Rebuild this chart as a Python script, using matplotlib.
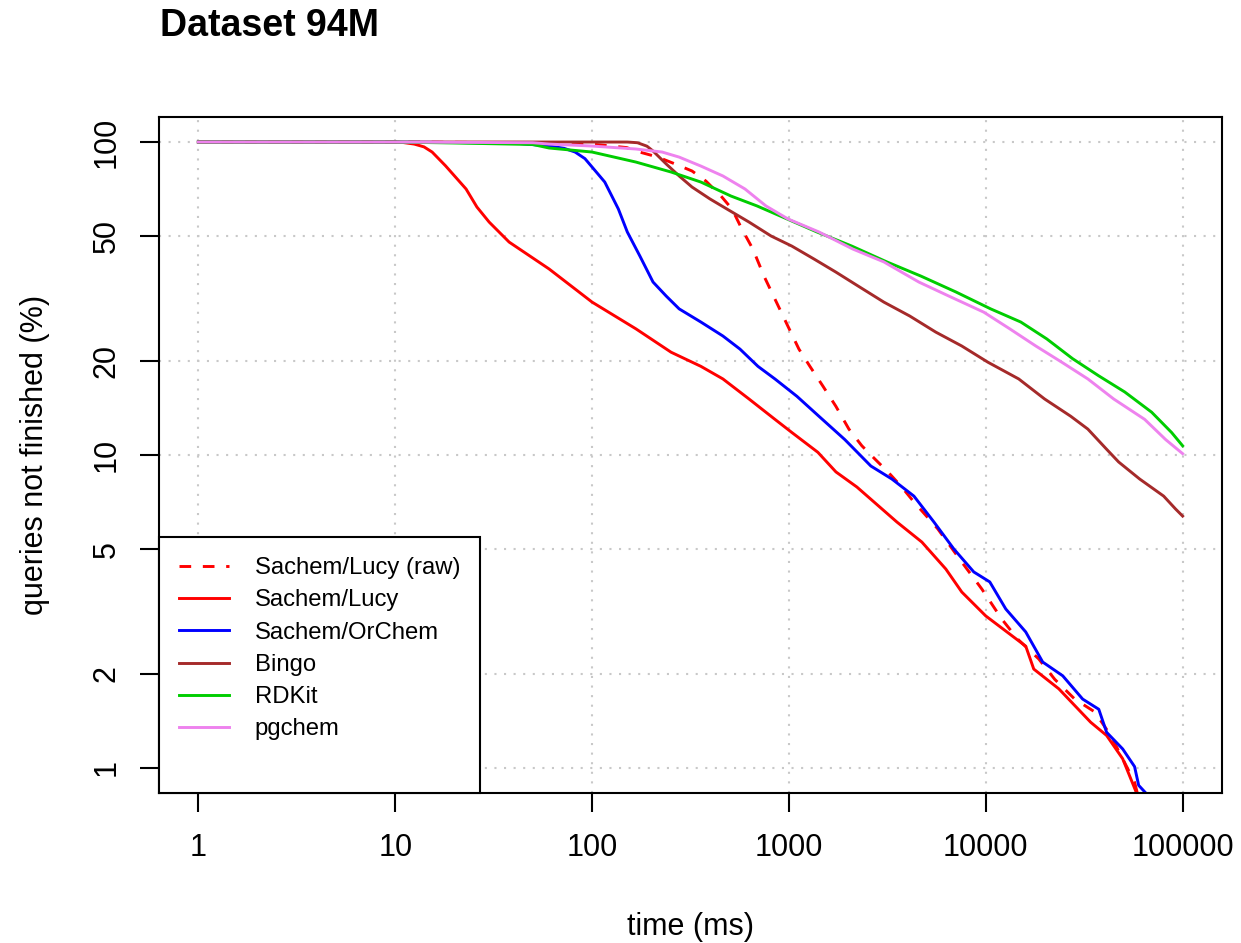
import matplotlib
matplotlib.use('Agg')
import matplotlib.pyplot as plt
from matplotlib.lines import Line2D

plt.rcParams['font.family'] = ['Liberation Sans', 'DejaVu Sans']

# time (ms) / queries not finished (%)
lucy_raw_t = [1, 10, 50, 100, 150, 167, 216, 264, 322, 379, 452, 514, 577, 656, 747, 849, 988,
              1124, 1278, 1488, 1733, 2017, 2347, 2733, 3183, 3705, 4315, 5700, 7550, 9550,
              12060, 14530, 18580, 22400, 28300, 35800, 43100, 49600, 57000, 59800]
lucy_raw_p = [100, 100, 99.5, 98.5, 96, 93.6, 89.5, 85.1, 80.8, 75.0, 67.2, 61.1, 52.7, 45.5, 37.3,
              31.5, 25.8, 21.8, 19.2, 16.6, 14.3, 12.1, 10.7, 9.71, 8.83, 7.96, 7.08, 5.81, 4.55,
              3.73, 2.99, 2.58, 2.23, 1.92, 1.66, 1.51, 1.27, 1.07, 0.90, 0.80]

lucy_t = [1, 10, 10.9, 12.5, 14, 15.4, 18, 22.9, 26, 30.0, 37.9, 60.5, 100, 167, 252, 357, 462,
          627, 849, 1035, 1403, 1733, 2215, 3533, 4735, 6270, 7550, 10000, 15960, 17530, 23500,
          34100, 41100, 49600, 59800]
lucy_p = [100, 100, 99.7, 98.5, 96.5, 92.9, 84, 70.8, 62, 55.5, 47.9, 39.3, 30.8, 25.3, 21.3, 19.2,
          17.5, 15.1, 13.0, 11.8, 10.2, 8.83, 7.90, 6.11, 5.27, 4.32, 3.65, 3.06, 2.45, 2.07, 1.79,
          1.40, 1.27, 1.07, 0.80]

orchem_t = [1, 10, 40, 60.5, 72, 82, 92, 100, 116, 136, 151, 175, 204, 238, 277, 357, 462, 564,
            696, 849, 1098, 1420, 1923, 2608, 3334, 4315, 5450, 6880, 8690, 10480, 12640, 15960,
            19460, 24600, 31050, 37500, 41100, 49600, 57000, 59800, 68800]
orchem_p = [100, 100, 99.3, 97.1, 95.5, 92.9, 88.5, 83.2, 74.5, 61.1, 51.6, 43.2, 35.7, 32.2,
            29.3, 26.6, 24.0, 21.8, 19.2, 17.5, 15.4, 13.3, 11.2, 9.22, 8.38, 7.39, 6.11, 5.01,
            4.23, 3.93, 3.22, 2.72, 2.18, 1.97, 1.66, 1.54, 1.30, 1.15, 1.01, 0.88, 0.80]

bingo_t = [1, 10, 100, 151, 170, 190, 204, 238, 277, 322, 397, 484, 627, 811, 1035, 1340, 1733,
           2240, 3035, 4110, 5570, 7550, 10240, 14700, 19900, 27000, 33000, 40700, 47300, 60500,
           80100, 92100, 100000]
bingo_p = [100, 100, 100, 100, 99.5, 97, 93.6, 85.1, 77.9, 71.8, 65.8, 61.1, 55.5, 50.1, 46.5,
           42.3, 38.4, 34.7, 30.8, 27.8, 24.7, 22.3, 19.8, 17.5, 15.1, 13.3, 12.1, 10.5, 9.50,
           8.38, 7.39, 6.72, 6.38]

rdkit_t = [1, 10, 20, 50, 60.5, 100, 167, 252, 357, 508, 688, 977, 1387, 2088, 3143, 4680, 7040,
           10590, 15060, 20400, 27650, 37500, 50800, 69600, 87900, 100000]
rdkit_p = [100, 100, 99.3, 98.2, 95.7, 92.9, 86.3, 80.2, 74.5, 67.2, 62.5, 56.8, 51.6, 46.5, 41.4,
           37.3, 33.2, 29.3, 26.6, 23.5, 20.3, 17.9, 15.9, 13.7, 11.8, 10.7]

pgchem_t = [1, 10, 50, 60.5, 100, 167, 227, 277, 357, 462, 598, 764, 988, 1420, 2113, 3035, 4570,
            6490, 9770, 13240, 17950, 24300, 33000, 44650, 64100, 82000, 100000]
pgchem_p = [100, 100, 99.5, 98.5, 97.1, 95.0, 92.9, 89.5, 83.8, 77.9, 70.8, 62.5, 56.8, 51.6, 45.5,
            41.4, 35.7, 32.2, 28.6, 25.3, 22.3, 19.8, 17.5, 15.1, 13.0, 11.2, 10.1]

x_ticks = [1, 10, 100, 1000, 10000, 100000]
y_ticks = [1, 2, 5, 10, 20, 50, 100]

fig = plt.figure(figsize=(12.41, 9.43), dpi=100)
ax = fig.add_axes([0.12812, 0.15907, 0.85657, 0.71686])
ax.set_xscale('log')
ax.set_yscale('log')
ax.set_xlim(10 ** -0.2, 10 ** 5.2)
ax.set_ylim(10 ** -0.08, 10 ** 2.08)

for v in x_ticks:
    ax.axvline(v, color='#c8c8c8', lw=1.5, ls=(0, (1, 3.6)), zorder=1)
for v in y_ticks:
    ax.axhline(v, color='#c8c8c8', lw=1.5, ls=(0, (1, 3.6)), zorder=1)

lw = 2.1
l_raw, = ax.plot(lucy_raw_t, lucy_raw_p, color='#ff0000', lw=lw, ls=(0, (4, 4)))
l_lucy, = ax.plot(lucy_t, lucy_p, color='#ff0000', lw=lw)
l_orc, = ax.plot(orchem_t, orchem_p, color='#0000ff', lw=lw)
l_bingo, = ax.plot(bingo_t, bingo_p, color='#a52a2a', lw=lw)
l_rdkit, = ax.plot(rdkit_t, rdkit_p, color='#00cd00', lw=lw)
l_pg, = ax.plot(pgchem_t, pgchem_p, color='#ee82ee', lw=lw)

ax.minorticks_off()
ax.set_xticks(x_ticks)
ax.set_xticklabels([str(v) for v in x_ticks])
ax.set_yticks(y_ticks)
ax.set_yticklabels([str(v) for v in y_ticks], rotation=90, va='center')
ax.tick_params(axis='both', length=13.7, width=1.5, labelsize=22)
ax.tick_params(axis='x', pad=15)
ax.tick_params(axis='y', pad=13)
for s in ax.spines.values():
    s.set_linewidth(1.5)

ax.set_xlabel('time (ms)', fontsize=22, va='center')
ax.xaxis.set_label_coords(0.5, -0.198)
ax.set_ylabel('queries not finished (%)', fontsize=22, va='center')
ax.yaxis.set_label_coords(-0.1167, 0.5)

fig.text(0.129, 0.9724, 'Dataset 94M', fontsize=27, fontweight='bold', ha='left', va='center')

blank = Line2D([], [], color='none')
leg = ax.legend([l_raw, l_lucy, l_orc, l_bingo, l_rdkit, l_pg, blank],
                ['Sachem/Lucy (raw)', 'Sachem/Lucy', 'Sachem/OrChem', 'Bingo', 'RDKit', 'pgchem', ''],
                loc='lower left', bbox_to_anchor=(0, 0), borderaxespad=0, fontsize=17.2,
                fancybox=False, framealpha=1, edgecolor='black', handlelength=2.1,
                handletextpad=1.05, borderpad=0.85, labelspacing=0.43)
leg.get_frame().set_linewidth(1.5)

fig.savefig('out.png', dpi=100)
